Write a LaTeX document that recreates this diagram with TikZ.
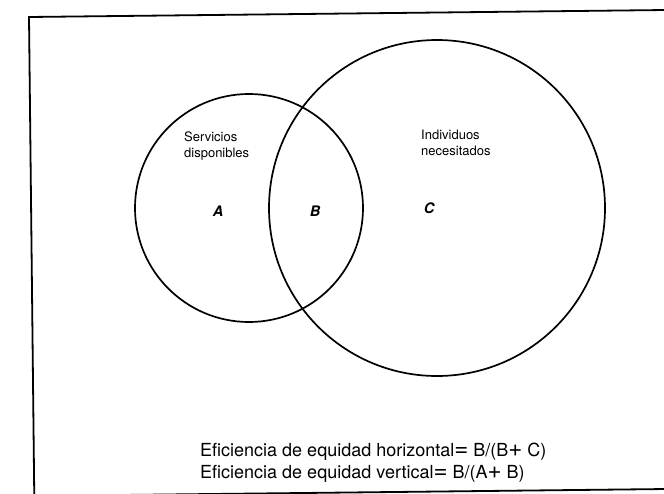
\documentclass[tikz,border=0pt]{standalone}
\usepackage{fontspec}
\setmainfont{TeX Gyre Heros}
\usetikzlibrary{positioning}

\tikzset{
  conjunto/.style={circle, draw, line width=1.7pt, inner sep=0pt},
  rotulo/.style={align=left, anchor=west, inner sep=0pt, font=\fontsize{13}{16.5}\selectfont},
  letra/.style={inner sep=0pt, font=\fontsize{14.5}{14.5}\selectfont\bfseries\itshape},
  formula/.style={anchor=west, inner sep=0pt, font=\fontsize{18}{18}\selectfont}
}
\newcommand{\grande}[1]{{\fontsize{24}{18}\selectfont #1}}

\begin{document}
\begin{tikzpicture}[x=1pt,y=-1pt]
    \useasboundingbox (0,0) rectangle (664,493);
    \clip (0,0) rectangle (664,493);
    % marco de la pagina
    \draw[line width=1.8pt, rotate around={0.63:(29,17)}] (29,17) rectangle ++(660,479);
    % conjuntos
    \node[conjunto, minimum size=228pt] (servicios) at (249,208) {};
    \node[conjunto, minimum size=336pt] (individuos) at (437,208) {};
    \node[rotulo] (servdisp) at (184,146) {Servicios\\disponibles};
    \node[rotulo] (indnec) at (421,143) {Individuos\\necesitados};
    \node[letra] (a) at (218,211) {A};
    \node[letra] (b) at (315,211) {B};
    \node[letra] (c) at (429,208) {C};
    % eficiencias
    \node[formula] (horiz) at (200,452) {Eficiencia de equidad horizontal\grande{=} B/(B\grande{+} C)};
    \node[formula] (vert) at (200,474) {Eficiencia de equidad vertical\grande{=} B/(A\grande{+} B)};
\end{tikzpicture}
\end{document}
